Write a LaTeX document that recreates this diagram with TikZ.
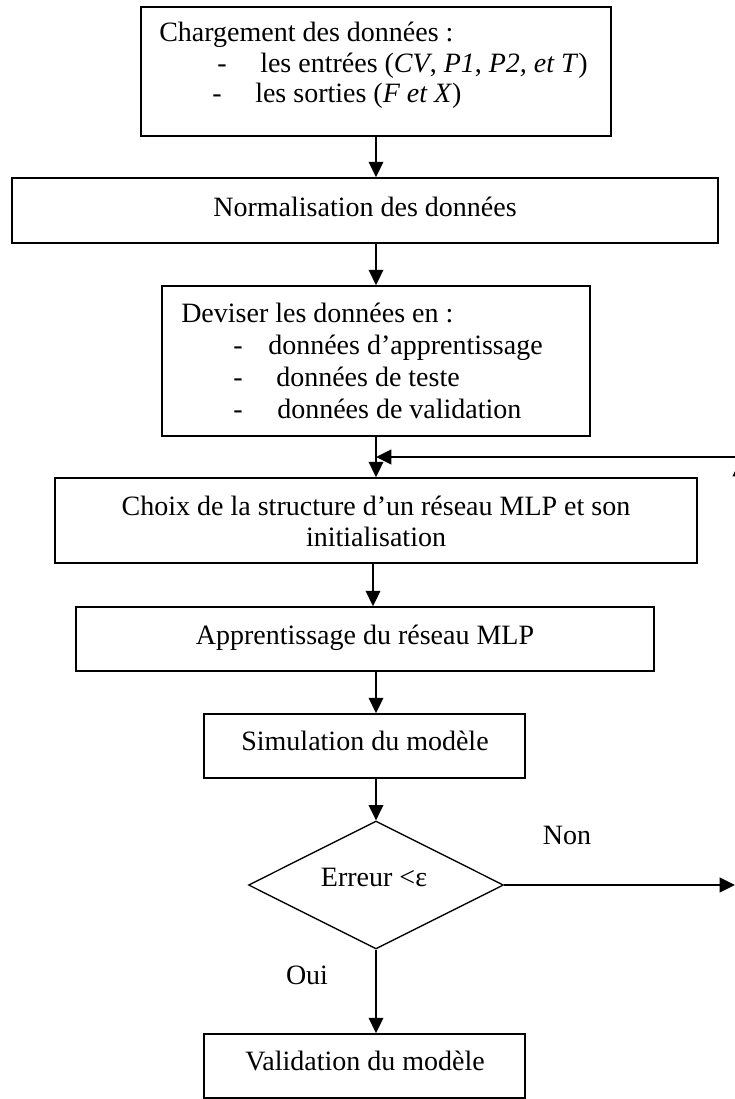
\documentclass[tikz,border=0pt]{standalone}
\usepackage{fontspec}
\setmainfont{Liberation Serif}
\usetikzlibrary{arrows.meta,shapes.geometric}
\begin{document}
\begin{tikzpicture}[x=0.75pt,y=-0.75pt,
  box/.style={draw,line width=1.3pt,inner sep=0pt,rectangle},
  txt/.style={inner sep=0pt,anchor=base west,font=\fontsize{21}{24}\selectfont},
  ctxt/.style={inner sep=0pt,anchor=base,font=\fontsize{21}{24}\selectfont},
  flow/.style={line width=1.3pt,-{Triangle[length=11.5pt,width=11pt]}},
]
\clip (0,0) rectangle (735,1099);

% process boxes
\node[box,minimum width=352.5pt,minimum height=96.75pt] (load)  at (376,71.5) {};
\node[box,minimum width=529.5pt,minimum height=48.75pt] (norm)  at (365,210.5) {};
\node[box,minimum width=321pt,minimum height=112.5pt]   (split) at (376,361) {};
\node[box,minimum width=481.5pt,minimum height=63.75pt] (choix) at (376,520.5) {};
\node[box,minimum width=433.5pt,minimum height=48pt]    (learn) at (365,639) {};
\node[box,minimum width=240.75pt,minimum height=48pt]   (simu)  at (364.5,746) {};
\node[draw,diamond,line width=1pt,minimum width=191.25pt,minimum height=96pt,
      inner sep=0pt] (test) at (376,885) {};
\node[box,minimum width=240.75pt,minimum height=48pt]   (valid) at (364.5,1066) {};

% box texts
\node[txt] (t1a) at (159,42)  {Chargement des données :};
\node[txt] (t1b) at (217,73)  {-};
\node[txt] (t1c) at (260,73)  {les entrées (\textit{CV}, \textit{P1}, \textit{P2, et T})};
\node[txt] (t1d) at (212,103) {-};
\node[txt] (t1e) at (255,103) {les sorties (\textit{F et X})};

\node[ctxt] (t2) at (365,216) {Normalisation des données};

\node[txt] (t3a) at (181,322) {Deviser les données en :};
\node[txt] (t3b) at (233,354) {-};
\node[txt] (t3c) at (268,354) {données d’apprentissage};
\node[txt] (t3d) at (233,386) {-};
\node[txt] (t3e) at (276,386) {données de teste};
\node[txt] (t3f) at (233,418) {-};
\node[txt] (t3g) at (277,418) {données de validation};

\node[ctxt] (t4a) at (376,515) {Choix de la structure d’un réseau MLP et son};
\node[ctxt] (t4b) at (376,546) {initialisation};
\node[ctxt] (t5)  at (365,644) {Apprentissage du réseau MLP};
\node[ctxt] (t6)  at (365,750) {Simulation du modèle};
\node[ctxt] (t7)  at (374,886) {Erreur <ε};
\node[ctxt] (non) at (567,844) {Non};
\node[ctxt] (oui) at (307,984) {Oui};
\node[ctxt] (t8)  at (365,1070) {Validation du modèle};

% connectors
\coordinate (col)   at (376,0);
\coordinate (col2)  at (373,0);
\coordinate (edgeR) at (735,885);
\coordinate (loopR) at (745,457);
\coordinate (loopL) at (376,457);
\coordinate (upB)   at (740,885);
\coordinate (upT)   at (740,461);

\draw[flow] (load.south -| col)   -- (norm.north -| col);
\draw[flow] (norm.south -| col)   -- (split.north -| col);
\draw[flow] (split.south -| col)  -- (choix.north -| col);
\draw[flow] (choix.south -| col2) -- (learn.north -| col2);
\draw[flow] (learn.south -| col)  -- (simu.north -| col);
\draw[flow] (simu.south -| test.north) -- (test.north);
\draw[flow] (test.south) -- (valid.north -| test.south);
\draw[flow] (test.east) -- (edgeR);
\draw[flow] (upB) -- (upT);
\draw[flow] (loopR) -- (loopL);
\end{tikzpicture}
\end{document}
